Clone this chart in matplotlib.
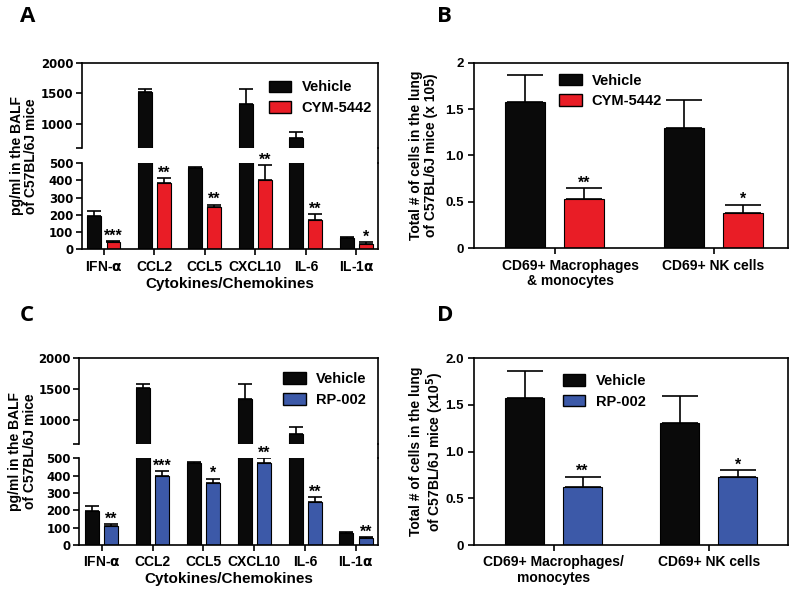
import numpy as np
import matplotlib.pyplot as plt
import matplotlib.transforms as mtransforms
from matplotlib.patches import Patch
from matplotlib.lines import Line2D

plt.rcParams['font.family'] = ['Liberation Sans', 'DejaVu Sans']
plt.rcParams['font.weight'] = 'bold'
plt.rcParams['axes.labelweight'] = 'bold'
plt.rcParams['axes.linewidth'] = 1.2
plt.rcParams['mathtext.default'] = 'bf'

# donnees
cytokines = ["IFN-$\\alpha$", "CCL2", "CCL5", "CXCL10", "IL-6", "IL-1$\\alpha$"]
veh_A = [196, 1516, 473, 1329, 780, 68]
veh_A_err = [223, 1571, 481, 1571, 882, 72]
cym_A = [41, 388, 244, 403, 169, 29]
cym_A_err = [46, 413, 260, 488, 205, 41]
stars_A = ["***", "**", "**", "**", "**", "*"]

veh_C = [196, 1524, 473, 1335, 773, 71]
veh_C_err = [223, 1578, 479, 1578, 886, 75]
rp_C = [108, 396, 356, 471, 248, 40]
rp_C_err = [119, 425, 381, 500, 275, 44]
stars_C = ["**", "***", "*", "**", "**", "**"]

cells_B = ["CD69+ Macrophages\n& monocytes", "CD69+ NK cells"]
veh_B = [1.58, 1.30]
veh_B_err = [1.864, 1.598]
cym_B = [0.535, 0.384]
cym_B_err = [0.646, 0.47]
stars_B = ["**", "*"]

cells_D = ["CD69+ Macrophages/\nmonocytes", "CD69+ NK cells"]
veh_D = [1.579, 1.304]
veh_D_err = [1.864, 1.596]
rp_D = [0.618, 0.725]
rp_D_err = [0.732, 0.80]
stars_D = ["**", "*"]

BLACK = "#0a0a0a"
RED = "#e91d26"
BLUE = "#3c59a8"
BREAK = 615  # bas de l'axe superieur (axe coupe)

fig = plt.figure(figsize=(8, 5.97), dpi=100)


def draw_bars(ax, x, vals, tops, color, width, cap, off):
    up = np.array(tops) - np.array(vals)
    ax.bar(x + off, vals, width, color=color, edgecolor="black", linewidth=0.8, zorder=2)
    ax.errorbar(x + off, vals, yerr=[np.zeros(len(vals)), up], fmt="none",
                ecolor="black", elinewidth=1.2, capsize=cap, capthick=1.2, zorder=1)


def stars(ax, x, tops, labels, off):
    for xi, t, s in zip(x, tops, labels):
        ax.annotate(s, (xi + off, t), xytext=(0, 0.5), textcoords="offset points",
                    ha="center", va="baseline", fontsize=11.5, annotation_clip=False)


def legend(ax, color, name, anchor):
    ax.legend(handles=[Patch(facecolor=BLACK, edgecolor="black"),
                       Patch(facecolor=color, edgecolor="black")],
              labels=["Vehicle", name], loc="upper left", bbox_to_anchor=anchor,
              frameon=False, fontsize=10.5, handlelength=1.55, handleheight=0.85,
              handletextpad=0.7, labelspacing=0.45, borderaxespad=0)


def letter_text(letter, pos):
    fig.text(pos[0], pos[1], letter, fontsize=16, family="Open Sans",
             weight="bold", va="top")


def broken_panel(rect_up, rect_lo, veh, veh_err, trt, trt_err, star, color, name, letter, letter_pos, ylab_x, leg_anchor):
    x = np.arange(len(cytokines))
    w, off = 0.276, 0.19
    ax_up = fig.add_axes(rect_up)
    ax_lo = fig.add_axes(rect_lo)
    for ax in (ax_up, ax_lo):
        draw_bars(ax, x, veh, veh_err, BLACK, w, 5, -off)
        draw_bars(ax, x, trt, trt_err, color, w, 5, off)
        ax.set_xlim(-0.44, 5.43)
        ax.tick_params(axis="both", width=1.2, length=4)
        ax.tick_params(axis="y", pad=2)
    ax_up.set_ylim(BREAK, 2000)
    ax_up.set_yticks([BREAK, 1000, 1500, 2000])
    ax_up.set_yticklabels(["", "1000", "1500", "2000"])
    ax_up.spines["bottom"].set_visible(False)
    ax_up.set_xticks([])
    ax_lo.set_ylim(0, 500)
    ax_lo.set_yticks(np.arange(0, 501, 100))
    for ax in (ax_up, ax_lo):
        for lab in ax.get_yticklabels():
            lab.set_family("DejaVu Sans")
            lab.set_fontsize(8.5)
    ax_lo.spines["top"].set_visible(False)
    ax_lo.set_xticks(x)
    ax_lo.set_xticklabels(cytokines, fontsize=10)
    ax_lo.set_xlabel("Cytokines/Chemokines", fontsize=11, labelpad=2)
    stars(ax_lo, x, trt_err, star, off)
    # bord droit continu a travers la coupure
    xr = rect_up[0] + rect_up[2]
    fig.add_artist(Line2D([xr, xr], [rect_lo[1] + rect_lo[3], rect_up[1]],
                          color="black", linewidth=1.2))
    legend(ax_up, color, name, leg_anchor)
    yc = (rect_lo[1] + rect_up[1] + rect_up[3]) / 2
    fig.text(ylab_x, yc, "pg/ml in the BALF\nof C57BL/6J mice", rotation=90,
             ha="center", va="center", fontsize=10, weight="bold",
             multialignment="center", linespacing=1.05)
    letter_text(letter, letter_pos)


def simple_panel(rect, cells, veh, veh_err, trt, trt_err, star, color, name, letter, letter_pos, ylab, yticklabels, xlim, leg_anchor, shift_first, lpad):
    x = np.arange(len(cells))
    w, off = 0.25, 0.187
    ax = fig.add_axes(rect)
    draw_bars(ax, x, veh, veh_err, BLACK, w, 13, -off)
    draw_bars(ax, x, trt, trt_err, color, w, 13, off)
    stars(ax, x, trt_err, star, off)
    ax.set_xlim(*xlim)
    ax.set_ylim(0, 2)
    ax.set_yticks([0, 0.5, 1.0, 1.5, 2.0])
    ax.set_yticklabels(yticklabels)
    ax.set_xticks(x)
    ax.set_xticklabels(cells, fontsize=10, linespacing=1.1)
    ax.tick_params(axis="both", labelsize=9.5, width=1.2, length=4)
    ax.tick_params(axis="x", labelsize=10)
    if shift_first:
        lab = ax.get_xticklabels()[0]
        lab.set_transform(lab.get_transform() + mtransforms.ScaledTranslation(
            shift_first / 100, 0, fig.dpi_scale_trans))
    ax.set_ylabel(ylab, fontsize=10, linespacing=1.1, labelpad=lpad)
    legend(ax, color, name, leg_anchor)
    letter_text(letter, letter_pos)


broken_panel([0.1021, 0.7521, 0.3704, 0.1429], [0.1021, 0.5824, 0.3704, 0.1441],
             veh_A, veh_A_err, cym_A, cym_A_err, stars_A, RED, "CYM-5442",
             "A", (0.025, 0.99), 0.030, (0.612, 0.86))
simple_panel([0.5925, 0.5841, 0.3929, 0.3109], cells_B, veh_B, veh_B_err, cym_B, cym_B_err,
             stars_B, RED, "CYM-5442", "B", (0.546, 0.99),
             "Total # of cells in the lung\nof C57BL/6J mice (x 105)",
             ["0", "0.5", "1.0", "1.5", "2"], (-0.507, 1.47), (0.252, 0.972), 16, 5)
broken_panel([0.0991, 0.2563, 0.3734, 0.1435], [0.0991, 0.0871, 0.3734, 0.1452],
             veh_C, veh_C_err, rp_C, rp_C_err, stars_C, BLUE, "RP-002",
             "C", (0.025, 0.489), 0.028, (0.663, 0.905))
simple_panel([0.5925, 0.0871, 0.3929, 0.3127], cells_D, veh_D, veh_D_err, rp_D, rp_D_err,
             stars_D, BLUE, "RP-002", "D", (0.546, 0.489),
             "Total # of cells in the lung\nof C57BL/6J mice (x10$^5$)",
             ["0", "0.5", "1.0", "1.5", "2.0"], (-0.513, 1.512), (0.264, 0.947), 0, -1)

fig.savefig("out.png", dpi=100)
